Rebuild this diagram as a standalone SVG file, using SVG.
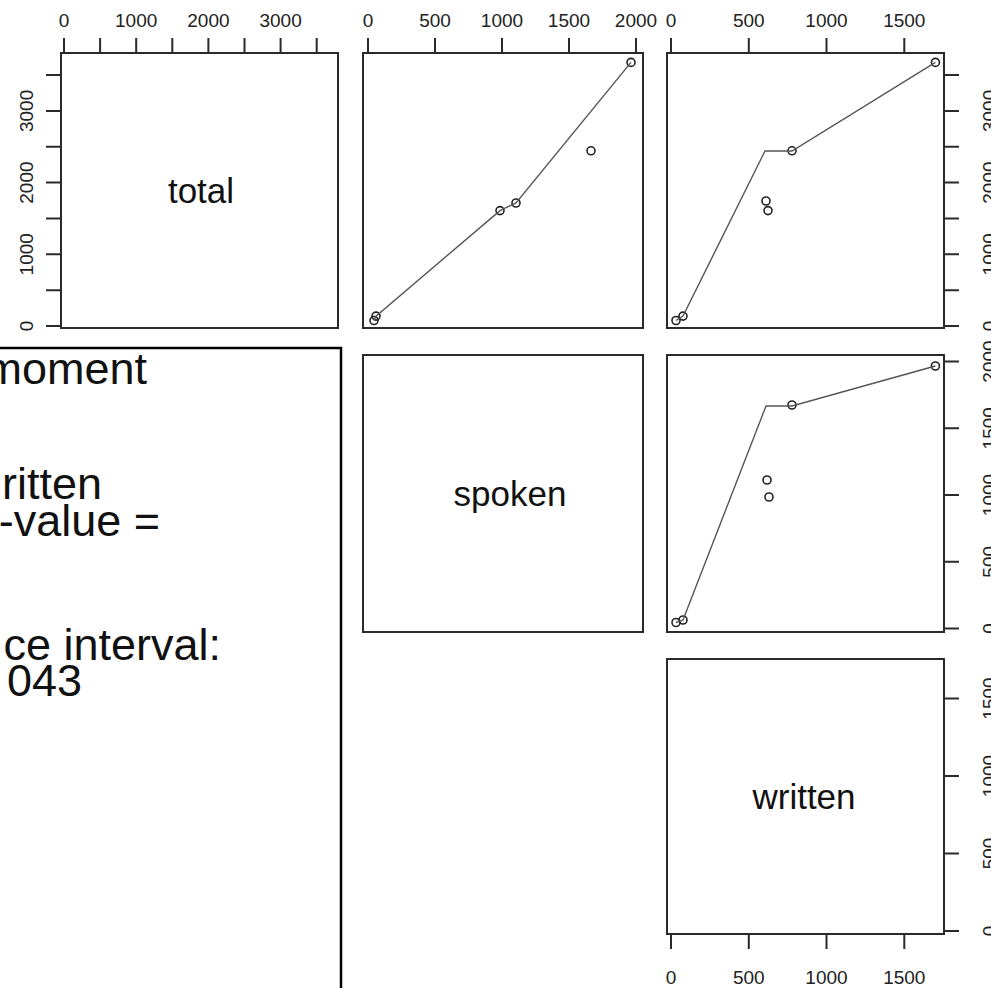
<svg xmlns="http://www.w3.org/2000/svg" width="991" height="988" viewBox="0 0 991 988">
<style>
.frame{fill:none;stroke:#2a2a2a;stroke-width:2}
.tick{stroke:#2a2a2a;stroke-width:2;fill:none}
.lab{font-family:"Liberation Sans",Arial,sans-serif;font-size:19px;fill:#222;text-anchor:middle}
.name{font-family:"Liberation Sans",Arial,sans-serif;font-size:35px;fill:#111;text-anchor:middle}
.pt{fill:none;stroke:#222;stroke-width:1.6}
.fit{fill:none;stroke:#555;stroke-width:1.4}
.box{fill:none;stroke:#000;stroke-width:2.5}
.big{font-family:"Liberation Sans",Arial,sans-serif;font-size:45px;fill:#111;text-anchor:end}
</style>
<rect width="991" height="988" fill="#fff"/>

<g id="panel-total">
<rect class="frame" x="61" y="53" width="277" height="275"/>
<text class="name" x="201" y="203">total</text>
<path class="tick" d="M64 38V53M100.1 38V53M136.2 38V53M172.3 38V53M208.4 38V53M244.5 38V53M280.6 38V53M316.7 38V53M64 53H316.7"/>
<text class="lab" x="64" y="27">0</text>
<text class="lab" x="136.2" y="27">1000</text>
<text class="lab" x="208.4" y="27">2000</text>
<text class="lab" x="280.6" y="27">3000</text>
<path class="tick" d="M46 326H61M46 290.2H61M46 254.3H61M46 218.5H61M46 182.6H61M46 146.8H61M46 110.9H61M46 75.1H61"/>
<text class="lab" transform="translate(33 326) rotate(-90)">0</text>
<text class="lab" transform="translate(33 254.3) rotate(-90)">1000</text>
<text class="lab" transform="translate(33 182.6) rotate(-90)">2000</text>
<text class="lab" transform="translate(33 110.9) rotate(-90)">3000</text>
</g>

<g id="panel-total-spoken">
<rect class="frame" x="363" y="53" width="280" height="275"/>
<path class="tick" d="M368 38V53M435 38V53M502 38V53M569 38V53M636 38V53"/>
<text class="lab" x="368" y="27">0</text>
<text class="lab" x="435" y="27">500</text>
<text class="lab" x="502" y="27">1000</text>
<text class="lab" x="569" y="27">1500</text>
<text class="lab" x="636" y="27">2000</text>
<circle class="pt" cx="374" cy="320.5" r="4"/>
<circle class="pt" cx="376" cy="316.1" r="4"/>
<circle class="pt" cx="500" cy="210.6" r="4"/>
<circle class="pt" cx="516" cy="203" r="4"/>
<circle class="pt" cx="591" cy="150.8" r="4"/>
<circle class="pt" cx="631" cy="62.4" r="4"/>
</g>

<g id="panel-total-written">
<rect class="frame" x="667" y="53" width="277" height="275"/>
<path class="tick" d="M671 38V53M748.8 38V53M826.5 38V53M904.3 38V53"/>
<text class="lab" x="671" y="27">0</text>
<text class="lab" x="748.8" y="27">500</text>
<text class="lab" x="826.5" y="27">1000</text>
<text class="lab" x="904.3" y="27">1500</text>
<path class="tick" d="M944 326H959M944 290.2H959M944 254.3H959M944 218.5H959M944 182.6H959M944 146.8H959M944 110.9H959M944 75.1H959"/>
<text class="lab" transform="translate(996 326) rotate(-90)">0</text>
<text class="lab" transform="translate(996 254.3) rotate(-90)">1000</text>
<text class="lab" transform="translate(996 182.6) rotate(-90)">2000</text>
<text class="lab" transform="translate(996 110.9) rotate(-90)">3000</text>
<circle class="pt" cx="676" cy="320.5" r="4"/>
<circle class="pt" cx="683" cy="316.1" r="4"/>
<circle class="pt" cx="768" cy="210.6" r="4"/>
<circle class="pt" cx="766" cy="201" r="4"/>
<circle class="pt" cx="792" cy="150.8" r="4"/>
<circle class="pt" cx="935.4" cy="62.4" r="4"/>
</g>

<g id="panel-spoken">
<rect class="frame" x="363" y="355" width="280" height="277"/>
<text class="name" x="510" y="506">spoken</text>
</g>

<g id="panel-spoken-written">
<rect class="frame" x="667" y="355" width="277" height="277"/>
<path class="tick" d="M944 628.5H959M944 561.8H959M944 495H959M944 428.3H959M944 361.5H959"/>
<text class="lab" transform="translate(996 628.5) rotate(-90)">0</text>
<text class="lab" transform="translate(996 561.8) rotate(-90)">500</text>
<text class="lab" transform="translate(996 495) rotate(-90)">1000</text>
<text class="lab" transform="translate(996 428.3) rotate(-90)">1500</text>
<text class="lab" transform="translate(996 361.5) rotate(-90)">2000</text>
<circle class="pt" cx="676" cy="622.5" r="4"/>
<circle class="pt" cx="683" cy="620" r="4"/>
<circle class="pt" cx="769" cy="497" r="4"/>
<circle class="pt" cx="767" cy="480" r="4"/>
<circle class="pt" cx="792" cy="405" r="4"/>
<circle class="pt" cx="935.4" cy="366" r="4"/>
</g>

<g id="panel-written">
<rect class="frame" x="667" y="659" width="277" height="275"/>
<text class="name" x="804" y="809">written</text>
<path class="tick" d="M671 934V949M748.8 934V949M826.5 934V949M904.3 934V949"/>
<text class="lab" x="671" y="984">0</text>
<text class="lab" x="748.8" y="984">500</text>
<text class="lab" x="826.5" y="984">1000</text>
<text class="lab" x="904.3" y="984">1500</text>
<path class="tick" d="M944 931H959M944 853.5H959M944 776H959M944 698.5H959"/>
<text class="lab" transform="translate(996 931) rotate(-90)">0</text>
<text class="lab" transform="translate(996 853.5) rotate(-90)">500</text>
<text class="lab" transform="translate(996 776) rotate(-90)">1000</text>
<text class="lab" transform="translate(996 698.5) rotate(-90)">1500</text>
</g>

<g id="connectors">
<polyline class="fit" points="374,320.5 376,316.1 500,210.6 516,203 631,62.4"/>
<polyline class="fit" points="676,320.5 683,316 765,151 792,151 935.4,62.4"/>
<polyline class="fit" points="676,622.5 683,620 766,406 792,406 935.4,366"/>
</g>

<g id="textbox">
<rect class="box" x="-10" y="348" width="351" height="660"/>
<text class="big" x="147" y="384">moment</text>
<text class="big" x="102" y="499">ritten</text>
<text class="big" x="160" y="536">-value =</text>
<text class="big" x="221" y="660">ce interval:</text>
<text class="big" x="82" y="696">043</text>
</g>
</svg>
